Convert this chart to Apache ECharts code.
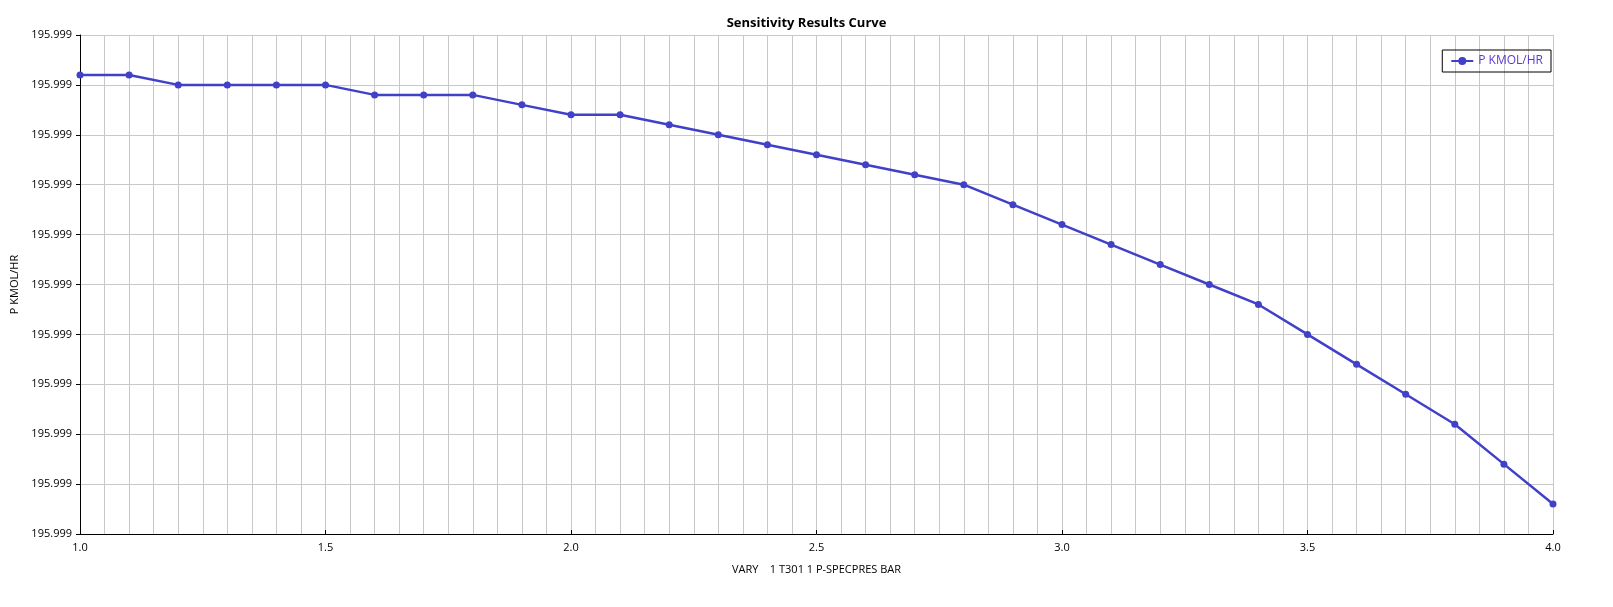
<!DOCTYPE html>
<html>
<head>
<meta charset="utf-8">
<script src="https://cdn.jsdelivr.net/npm/echarts@6/dist/echarts.min.js"></script>
<style>html,body{margin:0;padding:0;background:#fff}#chart{width:1613px;height:607px}</style>
</head>
<body>
<div id="chart"></div>
<script>
const xValues = [1.0, 1.1, 1.2, 1.3, 1.4, 1.5, 1.6, 1.7, 1.8, 1.9, 2.0, 2.1, 2.2, 2.3, 2.4, 2.5,
  2.6, 2.7, 2.8, 2.9, 3.0, 3.1, 3.2, 3.3, 3.4, 3.5, 3.6, 3.7, 3.8, 3.9, 4.0];
const flowValues = [195.9993680, 195.9993680, 195.9993600, 195.9993600, 195.9993600, 195.9993600,
  195.9993520, 195.9993520, 195.9993520, 195.9993440, 195.9993360, 195.9993360, 195.9993280,
  195.9993200, 195.9993120, 195.9993040, 195.9992960, 195.9992880, 195.9992800, 195.9992640,
  195.9992480, 195.9992320, 195.9992160, 195.9992000, 195.9991840, 195.9991600, 195.9991360,
  195.9991120, 195.9990880, 195.9990560, 195.9990240];

const chart = echarts.init(document.getElementById("chart"));
const font = "Open Sans";
chart.setOption({
  animation: false,
  title: {
    text: "Sensitivity Results Curve",
    left: "center", top: 12,
    textStyle: { fontFamily: font, fontSize: 13, fontWeight: "bold", color: "#000" },
  },
  legend: {
    right: 62, top: 50,
    data: ["P KMOL/HR"],
    borderColor: "#000", borderWidth: 1, padding: [5, 8],
    itemWidth: 22, itemHeight: 10,
    textStyle: { fontFamily: font, fontSize: 12, color: "#5a3ad0" },
  },
  grid: { left: 80, right: 60, top: 35, bottom: 73 },
  xAxis: {
    type: "value", min: 1.0, max: 4.0, interval: 0.5,
    name: "VARY    1 T301 1 P-SPECPRES BAR", nameLocation: "middle", nameGap: 30,
    nameTextStyle: { fontFamily: font, fontSize: 11, color: "#000" },
    axisLine: { lineStyle: { color: "#000" } },
    axisTick: { lineStyle: { color: "#000" }, length: 4, inside: true },
    axisLabel: { fontFamily: font, fontSize: 11, color: "#000", formatter: v => v.toFixed(1) },
    splitLine: { lineStyle: { color: "#c8c8c8" } },
    minorTick: { show: false, splitNumber: 10 },
    minorSplitLine: { show: true, lineStyle: { color: "#c8c8c8" } },
  },
  yAxis: {
    type: "value", min: 195.99900, max: 195.99940, interval: 0.00004,
    name: "P KMOL/HR", nameLocation: "middle", nameGap: 58,
    nameTextStyle: { fontFamily: font, fontSize: 11, color: "#000" },
    axisLine: { show: true, lineStyle: { color: "#000" } },
    axisTick: { show: true, lineStyle: { color: "#000" }, length: 4 },
    axisLabel: { fontFamily: font, fontSize: 11, color: "#000", formatter: v => (Math.floor(v * 1000 + 1e-9) / 1000).toFixed(3) },
    splitLine: { lineStyle: { color: "#c8c8c8" } },
  },
  series: [{
    name: "P KMOL/HR",
    type: "line",
    data: xValues.map((x, i) => [x, flowValues[i]]),
    symbol: "circle", symbolSize: 7,
    lineStyle: { color: "#4040c8", width: 2.5 },
    itemStyle: { color: "#4040c8" },
  }],
});
</script>
</body>
</html>
